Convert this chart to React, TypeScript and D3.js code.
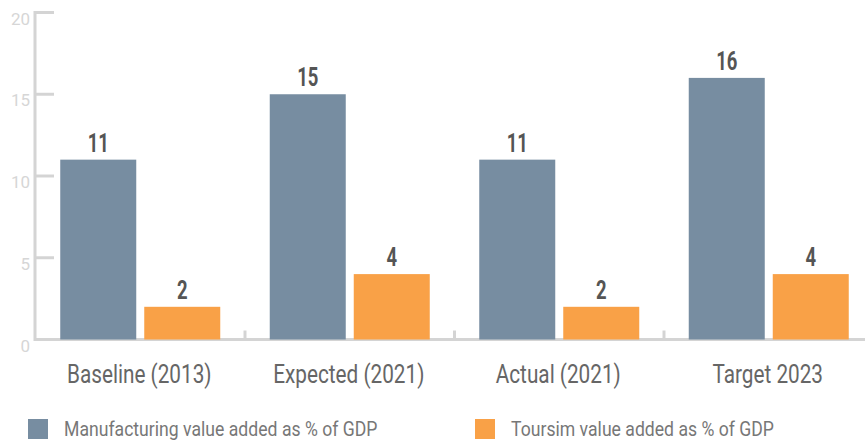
import React from "react";
import * as d3 from "d3";

const categories = ["Baseline (2013)", "Expected (2021)", "Actual (2021)", "Target 2023"];
const manufacturing = [11, 15, 11, 16];
const tourism = [2, 4, 2, 4];
const seriesNames = ["Manufacturing value added as % of GDP", "Toursim value added as % of GDP"];
const yTicks = [0, 5, 10, 15, 20];

const W = 865;
const H = 441;
const colors = ["#778da1", "#f9a147"];
const axisColor = "#d4d4d4";

export default function App() {
  const y = d3.scaleLinear().domain([0, 20]).range([339.5, 12.5]);
  const x0 = d3.scaleBand<string>().domain(categories).range([35.5, 873.5]).padding(0);
  const x1 = d3
    .scaleBand<number>()
    .domain([0, 1])
    .range([0, x0.bandwidth()])
    .paddingInner(0.0952)
    .paddingOuter(0.2946);

  const series = [manufacturing, tourism];

  return (
    <div style={{ position: "absolute", left: 0, top: 0 }}>
      <svg width={W} height={H} style={{ display: "block", fontFamily: "Roboto, sans-serif" }}>
        {/* y axis */}
        <line x1={35} x2={35} y1={y(20) - 1.5} y2={y(0) + 1.5} stroke={axisColor} strokeWidth={3} />
        {yTicks.map(t => (
          <g key={t}>
            <line x1={35} x2={54} y1={y(t)} y2={y(t)} stroke={axisColor} strokeWidth={3} />
            <text x={30} y={y(t) + 12} textAnchor="end" fontSize={17} fill="#d6d6d6">
              {t}
            </text>
          </g>
        ))}
        {/* x axis */}
        <line x1={35} x2={W} y1={y(0)} y2={y(0)} stroke={axisColor} strokeWidth={3} />
        {categories.slice(1).map(c => (
          <line key={c} x1={x0(c)!} x2={x0(c)!} y1={y(0)} y2={y(0) - 9} stroke={axisColor} strokeWidth={3} />
        ))}
        {/* bars */}
        {categories.map((c, i) => (
          <g key={c} transform={`translate(${x0(c)},0)`}>
            {series.map((s, j) => {
              const bx = x1(j)!;
              const bw = x1.bandwidth();
              return (
                <g key={j}>
                  <rect x={bx} y={y(s[i])} width={bw} height={y(0) - y(s[i])} fill={colors[j]} />
                  <text
                    transform={`translate(${bx + bw / 2},${y(s[i]) - 8}) scale(0.74,1)`}
                    textAnchor="middle"
                    fontSize={25}
                    fontWeight="bold"
                    fill="#555555"
                  >
                    {s[i]}
                  </text>
                </g>
              );
            })}
            <text
              transform={`translate(${x0.bandwidth() / 2 - 1},383) scale(0.83,1)`}
              textAnchor="middle"
              fontSize={25}
              fill="#666666"
            >
              {c}
            </text>
          </g>
        ))}
        {/* legend */}
        {seriesNames.map((n, j) => {
          const lx = j === 0 ? 28 : 475;
          return (
            <g key={n}>
              <rect x={lx} y={419} width={20} height={20} fill={colors[j]} />
              <text
                transform={`translate(${lx + 36},435.5) scale(0.86,1)`}
                fontSize={20.5}
                fill="#777777"
              >
                {n}
              </text>
            </g>
          );
        })}
      </svg>
    </div>
  );
}
